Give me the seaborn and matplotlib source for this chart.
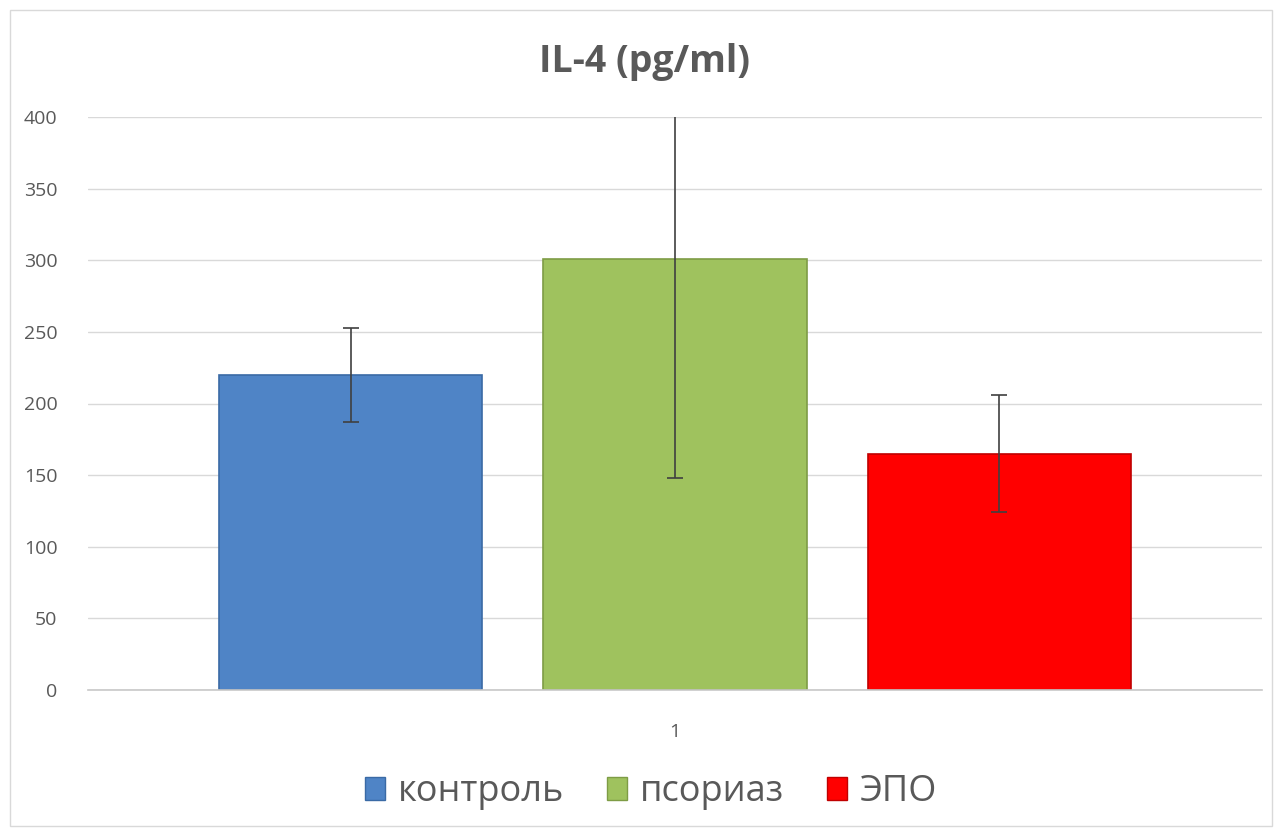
import matplotlib
matplotlib.use("Agg")
import matplotlib.pyplot as plt
import seaborn as sns
import pandas as pd
import numpy as np
from matplotlib.patches import Rectangle

groups = ["контроль", "псориаз", "ЭПО"]
means = [220, 301, 165]
errors = [33, 153, 41]
category = ["1", "1", "1"]
colors = ["#4f84c6", "#9fc25e", "#ff0000"]
edge_colors = ["#3a6aa5", "#7e9c45", "#c00000"]
yticks = [0, 50, 100, 150, 200, 250, 300, 350, 400]

sns.set_theme(style="white")
plt.rcParams["font.family"] = ["Open Sans", "DejaVu Sans"]

df = pd.DataFrame({"cat": category, "group": groups, "value": means})

fig = plt.figure(figsize=(12.82, 8.36), dpi=100)
ax = fig.add_axes([88/1282, (836-690)/836, (1262-88)/1282, (690-117)/836])

sns.barplot(data=df, x="cat", y="value", hue="group", hue_order=groups,
            palette=colors, width=0.8, gap=0.188, errorbar=None, ax=ax,
            legend=False, saturation=1)

for p, ec in zip(ax.patches, edge_colors):
    p.set_edgecolor(ec)
    p.set_linewidth(1.2)

centers = [p.get_x() + p.get_width()/2 for p in ax.patches]
ax.errorbar(centers, means, yerr=errors, fmt="none", ecolor="#404040",
            elinewidth=1.2, capsize=6, capthick=1.2, zorder=5)

ax.set_ylim(0, 400)
ax.set_xlim(-0.483, 0.483)
ax.set_yticks(yticks)
ax.yaxis.grid(True, color="#d9d9d9", linewidth=1)
ax.set_axisbelow(True)
for s in ["top", "right", "left"]:
    ax.spines[s].set_visible(False)
ax.spines["bottom"].set_color("#c8c8c8")
ax.spines["bottom"].set_linewidth(1.2)
ax.tick_params(axis="both", length=0, labelsize=14, colors="#595959")
ax.tick_params(axis="y", pad=22)
ax.tick_params(axis="x", pad=24)
ax.set_xlabel("")
ax.set_ylabel("")

fig.text(0.503, 1 - 62/836, "IL-4 (pg/ml)", ha="center", va="center",
         fontsize=27, fontweight="bold", color="#595959")

handles = [Rectangle((0, 0), 1, 1, facecolor=c, edgecolor=e) for c, e in zip(colors, edge_colors)]
fig.legend(handles, groups, loc="center", bbox_to_anchor=(0.508, 1 - 792/836),
           ncol=3, frameon=False, fontsize=26, labelcolor="#595959",
           handlelength=0.55, handleheight=0.6, handletextpad=0.35, columnspacing=1.2)

border = Rectangle((10/1282, 10/836), 1262/1282, 816/836, transform=fig.transFigure,
                   fill=False, edgecolor="#d9d9d9", linewidth=1)
fig.patches.append(border)

fig.savefig("out.png", dpi=100)
